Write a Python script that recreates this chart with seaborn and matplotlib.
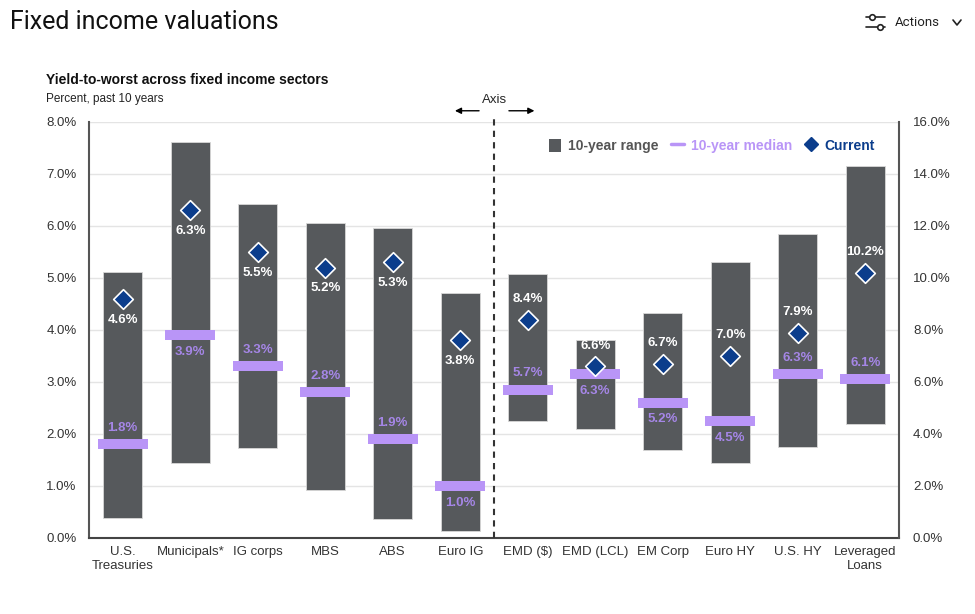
import numpy as np
import pandas as pd
import matplotlib.pyplot as plt
from matplotlib.lines import Line2D
from matplotlib.patches import Patch
import seaborn as sns

# Sectors: first six, last six off the right axis
sectors = ["U.S.\nTreasuries", "Municipals*", "IG corps", "MBS", "ABS", "Euro IG",
           "EMD (\\$)", "EMD (LCL)", "EM Corp", "Euro HY", "U.S. HY", "Leveraged\nLoans"]
axis_side = ["left"] * 6 + ["right"] * 6

# 10-year range, median and current yield-to-worst (percent)
range_low = [0.38, 1.45, 1.74, 0.92, 0.36, 0.13, 4.5, 4.2, 3.4, 2.9, 3.5, 4.4]
range_high = [5.12, 7.62, 6.43, 6.06, 5.97, 4.71, 10.15, 7.62, 8.67, 10.6, 11.7, 14.3]
median = [1.8, 3.9, 3.3, 2.8, 1.9, 1.0, 5.7, 6.3, 5.2, 4.5, 6.3, 6.1]
current = [4.6, 6.3, 5.5, 5.2, 5.3, 3.8, 8.4, 6.6, 6.7, 7.0, 7.9, 10.2]

# where the value labels sit (above / below their mark)
current_above = [False] * 6 + [True] * 6
median_above = [True, False, True, True, True, False, True, False, False, False, True, True]

df = pd.DataFrame({"sector": sectors, "side": axis_side, "low": range_low,
                   "high": range_high, "median": median, "current": current})
df["span"] = df["high"] - df["low"]

gray = "#56595c"
lavender = "#b995f7"
lav_text = "#a586e6"
navy = "#0b3d8c"

sns.set_style("white")
plt.rcParams["font.family"] = ["Liberation Sans", "DejaVu Sans"]

fig = plt.figure(figsize=(9.75, 6.14), dpi=100)
ax = fig.add_axes([89 / 975, 1 - 538 / 614, 810 / 975, 416 / 614])
ax2 = ax.twinx()

rect = [(-1, -0.2), (1, -0.2), (1, 0.2), (-1, 0.2), (-1, -0.2)]

for side, a in [("left", ax), ("right", ax2)]:
    sub = df[df["side"] == side]
    sns.barplot(data=sub, x="sector", y="span", order=sectors, bottom=sub["low"].values,
                width=0.58, color=gray, saturation=1, linewidth=0.6, edgecolor="#d8d8d8",
                errorbar=None, ax=a)
    sns.stripplot(data=sub, x="sector", y="median", order=sectors, jitter=False,
                  marker=rect, size=36, color=lavender, linewidth=0, ax=a)
    sns.stripplot(data=sub, x="sector", y="current", order=sectors, jitter=False,
                  marker="D", size=10, color=navy, edgecolor="white", linewidth=1.2, ax=a)

for i, row in df.iterrows():
    a = ax if row["side"] == "left" else ax2
    a.annotate(f"{row['current']:.1f}%", (i, row["current"]),
               xytext=(0, 15 if current_above[i] else -15), textcoords="offset points",
               ha="center", va="center", color="white", fontweight="bold", fontsize=9.5)
    a.annotate(f"{row['median']:.1f}%", (i, row["median"]),
               xytext=(0, 12 if median_above[i] else -12), textcoords="offset points",
               ha="center", va="center", color=lav_text, fontweight="bold", fontsize=9.5)

ax.set_ylim(0, 8)
ax2.set_ylim(0, 16)
ax.set_xlim(-0.5, len(sectors) - 0.5)

ax.set_yticks(np.arange(0, 8.01, 1))
ax.set_yticklabels([f"{v:.1f}%" for v in np.arange(0, 8.01, 1)])
ax2.set_yticks(np.arange(0, 16.01, 2))
ax2.set_yticklabels([f"{v:.1f}%" for v in np.arange(0, 16.01, 2)])
ax.tick_params(axis="y", length=0, labelsize=9.5, labelcolor="#333333", pad=9)
ax2.tick_params(axis="y", length=0, labelsize=9.5, labelcolor="#333333", pad=10)

ax.set_xticks(np.arange(-0.5, len(sectors), 1))
ax.set_xticklabels([])
ax.set_xticks(np.arange(len(sectors)), minor=True)
ax.set_xticklabels(sectors, minor=True)
ax.tick_params(axis="x", which="major", length=5, width=1.5, color="#444444", direction="out")
ax.tick_params(axis="x", which="minor", length=0, labelsize=9.5, labelcolor="#333333", pad=6)

ax.yaxis.grid(True, color="#e4e4e4", lw=1)
ax.set_axisbelow(True)
ax2.grid(False)
for a in (ax, ax2):
    a.set_xlabel("")
    a.set_ylabel("")
    a.spines["top"].set_visible(False)
ax.spines["right"].set_visible(False)
ax2.spines["left"].set_visible(False)
ax2.spines["bottom"].set_visible(False)
ax.spines["left"].set_color("#555555")
ax.spines["left"].set_linewidth(1.5)
ax2.spines["right"].set_color("#555555")
ax2.spines["right"].set_linewidth(1.5)
ax.spines["bottom"].set_color("#444444")
ax.spines["bottom"].set_linewidth(1.5)

# axis divider
ax2.axvline(5.5, ymin=0, ymax=1.01, color="#333333", ls=(0, (3, 2.5)), lw=1.5, clip_on=False)
trans = ax.get_xaxis_transform()
ax.text(5.51, 1.053, "Axis", transform=trans, ha="center", va="center", fontsize=9.5)
ax.annotate("", xy=(4.88, 1.027), xytext=(5.32, 1.027), xycoords=trans, textcoords=trans,
            arrowprops=dict(arrowstyle="-|>", color="black", lw=1, mutation_scale=9), annotation_clip=False)
ax.annotate("", xy=(6.14, 1.027), xytext=(5.68, 1.027), xycoords=trans, textcoords=trans,
            arrowprops=dict(arrowstyle="-|>", color="black", lw=1, mutation_scale=9), annotation_clip=False)

handles = [Patch(facecolor=gray, edgecolor="none"),
           Line2D([], [], color=lavender, lw=2.5),
           Line2D([], [], marker="D", color=navy, ls="none", markersize=7)]
leg = ax2.legend(handles, ["10-year range", "10-year median", "Current"], loc="upper right",
                 bbox_to_anchor=(0.985, 0.99), ncol=3, frameon=False, handlelength=0.9,
                 handleheight=1.1, handletextpad=0.5, columnspacing=0.9,
                 prop={"weight": "bold", "size": 10})
for t, c in zip(leg.get_texts(), ["#555555", lavender, navy]):
    t.set_color(c)

# titles
fig.text(10 / 975, 1 - 22 / 614, "Fixed income valuations", fontsize=18, family="Roboto",
         va="center", color="#111111")
fig.text(46 / 975, 1 - 80 / 614, "Yield-to-worst across fixed income sectors",
         fontsize=10, fontweight="bold", va="center", color="#111111")
fig.text(46 / 975, 1 - 99 / 614, "Percent, past 10 years", fontsize=8.5, va="center", color="#222222")

# "Actions" control
fig.text(895 / 975, 1 - 22 / 614, "Actions", fontsize=9.5, family="Roboto", va="center", color="#222222")
for yy, xc in [(17, 872), (27, 880)]:
    fig.add_artist(Line2D([866 / 975, 885 / 975], [1 - yy / 614] * 2, color="#222222", lw=1.2))
    fig.add_artist(Line2D([xc / 975], [1 - yy / 614], marker="o", markersize=4,
                          markerfacecolor="white", markeredgecolor="#222222", mew=1.2))
fig.add_artist(Line2D([953 / 975, 957 / 975, 961 / 975], [1 - 20 / 614, 1 - 25 / 614, 1 - 20 / 614],
                      color="#222222", lw=1.2))

fig.savefig("out.png", dpi=100)
